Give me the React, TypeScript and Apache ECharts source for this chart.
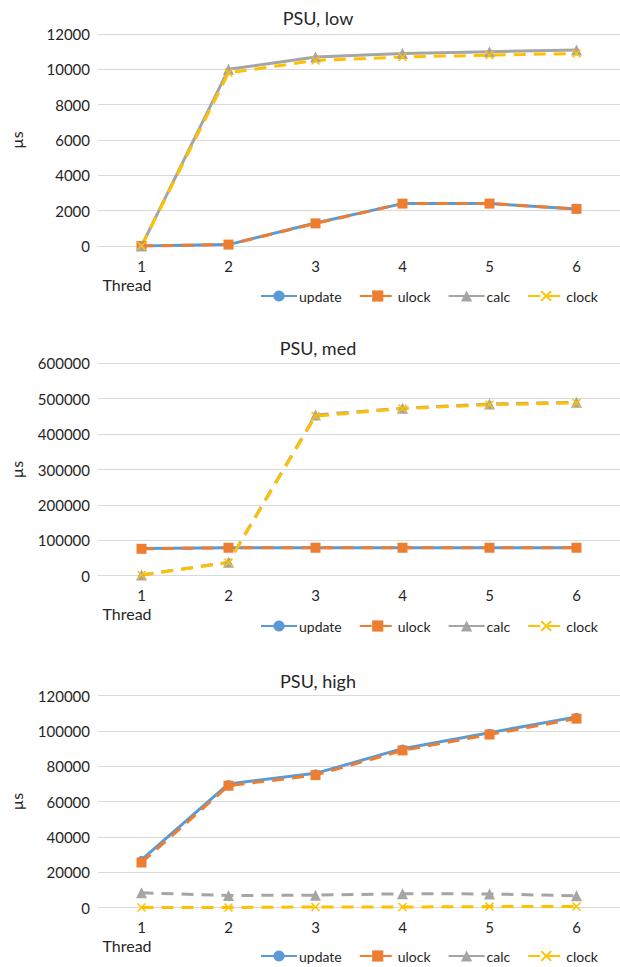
import React, { useEffect, useRef } from "react";
import * as echarts from "echarts";

// Thread counts on the x axis
const threads = ["1", "2", "3", "4", "5", "6"];

// PSU, low (µs)
const lowUpdate = [0, 80, 1300, 2400, 2400, 2100];
const lowUlock = [0, 80, 1280, 2400, 2400, 2100];
const lowCalc = [0, 10000, 10700, 10900, 11000, 11100];
const lowClock = [0, 9800, 10500, 10700, 10800, 10900];

// PSU, med (µs)
const medUpdate = [77000, 79000, 79000, 79000, 79000, 79000];
const medUlock = [76000, 79000, 79000, 79000, 79000, 79000];
const medCalc = [2000, 38000, 454000, 473000, 485000, 490000];
const medClock = [2000, 37000, 451000, 472000, 483000, 488000];

// PSU, high (µs)
const highUpdate = [27000, 70000, 76000, 90000, 99000, 108000];
const highUlock = [25500, 69000, 75000, 89000, 98000, 107000];
const highCalc = [8300, 6800, 7000, 7800, 7700, 6600];
const highClock = [0, 0, 300, 300, 500, 500];

const titles = ["PSU, low", "PSU, med", "PSU, high"];
const yMax = [12000, 600000, 120000];
const yStep = [2000, 100000, 20000];

const FONT = "Lato, 'Open Sans', sans-serif";
const BLUE = "#5B9BD5";
const ORANGE = "#ED7D31";
const GRAY = "#A5A5A5";
const YELLOW = "#FFC000";
const TEXT = "#262626";
const X_SYMBOL =
  "path://M0,1.2L1.2,0L5,3.8L8.8,0L10,1.2L6.2,5L10,8.8L8.8,10L5,6.2L1.2,10L0,8.8L3.8,5Z";

// panel layout: plot top, plot height, title centre, legend centre
const panels = [
  { top: 34, height: 212, titleY: 18, legendY: 296 },
  { top: 363.3, height: 212.4, titleY: 348, legendY: 626 },
  { top: 695.7, height: 211.8, titleY: 681, legendY: 956 },
];

export default function App() {
  const ref = useRef<HTMLDivElement>(null);

  useEffect(() => {
    if (!ref.current) return;
    const chart = echarts.init(ref.current, null, { renderer: "svg" });

    const data = [
      [lowUpdate, lowUlock, lowCalc, lowClock],
      [medUpdate, medUlock, medCalc, medClock],
      [highUpdate, highUlock, highCalc, highClock],
    ];

    const grids = panels.map((p) => ({
      left: 90,
      width: 532,
      top: p.top,
      height: p.height,
    }));

    const xAxes = panels.map((_, i) => ({
      type: "category",
      gridIndex: i,
      data: threads,
      boundaryGap: true,
      axisLine: { show: true, lineStyle: { color: "#D9D9D9", width: 1 } },
      axisTick: { show: false },
      axisLabel: { margin: 12, fontSize: 15, fontFamily: FONT, color: TEXT },
    }));

    const yAxes = panels.map((_, i) => ({
      type: "value",
      gridIndex: i,
      min: 0,
      max: yMax[i],
      interval: yStep[i],
      name: "µs",
      nameLocation: "middle",
      nameGap: 74,
      nameRotate: 90,
      nameTextStyle: { fontSize: 16, fontFamily: FONT, color: TEXT },
      axisLine: { show: false },
      axisTick: { show: false },
      splitLine: { lineStyle: { color: "#D9D9D9", width: 1 } },
      axisLabel: {
        margin: 8,
        fontSize: 15,
        fontFamily: FONT,
        color: TEXT,
        formatter: (v: number) => String(v),
      },
    }));

    const dash = [12, 8];
    const series: any[] = [];
    data.forEach((set, i) => {
      series.push({
        name: "update",
        type: "line",
        xAxisIndex: i,
        yAxisIndex: i,
        data: set[0],
        symbol: "circle",
        symbolSize: 8,
        itemStyle: { color: BLUE },
        lineStyle: { color: BLUE, width: 3 },
      });
      series.push({
        name: "ulock",
        type: "line",
        xAxisIndex: i,
        yAxisIndex: i,
        data: set[1],
        symbol: "rect",
        symbolSize: 10,
        itemStyle: { color: ORANGE },
        lineStyle: { color: ORANGE, width: 3, type: dash },
      });
      series.push({
        name: "calc",
        type: "line",
        xAxisIndex: i,
        yAxisIndex: i,
        data: set[2],
        symbol: "triangle",
        symbolSize: 11,
        itemStyle: { color: GRAY },
        lineStyle: { color: GRAY, width: 3, type: i === 0 ? "solid" : dash },
      });
      series.push({
        name: "clock",
        type: "line",
        xAxisIndex: i,
        yAxisIndex: i,
        data: set[3],
        symbol: X_SYMBOL,
        symbolSize: 9,
        itemStyle: { color: YELLOW },
        lineStyle: { color: YELLOW, width: 3, type: dash },
      });
    });

    const legends = panels.map((p) => ({
      top: p.legendY - 7,
      left: 260,
      padding: 0,
      itemWidth: 36,
      itemHeight: 14,
      itemGap: 17,
      textStyle: { fontSize: 14, fontFamily: FONT, color: TEXT, padding: [0, 0, 0, -3] },
      data: [
        { name: "update" },
        { name: "ulock" },
        { name: "calc", lineStyle: { type: "solid" } },
        { name: "clock" },
      ],
    }));

    const graphics: any[] = [];
    panels.forEach((p, i) => {
      graphics.push({
        type: "text",
        x: 318,
        y: p.titleY,
        style: {
          text: titles[i],
          fontSize: 18,
          fontFamily: FONT,
          fill: TEXT,
          textAlign: "center",
          textVerticalAlign: "middle",
        },
      });
      graphics.push({
        type: "text",
        x: 127,
        y: p.top + p.height + 38,
        style: {
          text: "Thread",
          fontSize: 16,
          fontFamily: FONT,
          fill: TEXT,
          textAlign: "center",
          textVerticalAlign: "middle",
        },
      });
    });

    chart.setOption({
      animation: false,
      backgroundColor: "#ffffff",
      grid: grids,
      xAxis: xAxes,
      yAxis: yAxes,
      legend: legends,
      graphic: graphics,
      series,
    });

    return () => chart.dispose();
  }, []);

  return (
    <div
      ref={ref}
      style={{ position: "absolute", left: 0, top: 0, width: 620, height: 967 }}
    />
  );
}
